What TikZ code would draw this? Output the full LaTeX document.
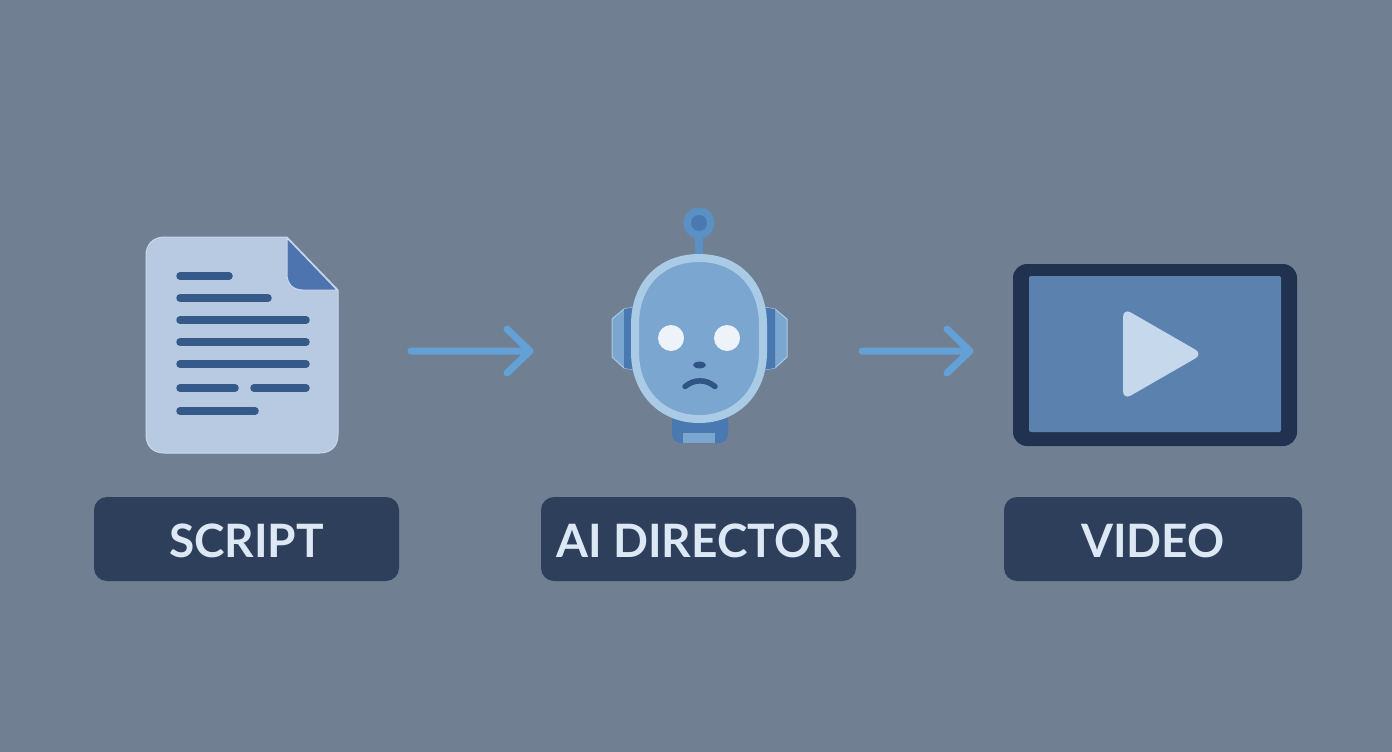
\documentclass[tikz,border=0pt]{standalone}
\usepackage{fontspec}
\setmainfont{Lato}
\definecolor{bg}{HTML}{717F92}
\definecolor{lab}{HTML}{2E3F5C}
\definecolor{labtxt}{HTML}{DCE8F4}
\definecolor{paper}{HTML}{B8C9E2}
\definecolor{paperrim}{HTML}{C9D8EC}
\definecolor{fold}{HTML}{4E74B0}
\definecolor{ink}{HTML}{355A8A}
\definecolor{flowc}{HTML}{62A0D6}
\definecolor{face}{HTML}{7BA6CF}
\definecolor{rim}{HTML}{A9CBE6}
\definecolor{deep}{HTML}{4A78B0}
\definecolor{mouthc}{HTML}{2F5587}
\definecolor{frame}{HTML}{20324F}
\definecolor{scr}{HTML}{5B82AE}
\definecolor{playc}{HTML}{C6D8EC}
\definecolor{eye}{HTML}{EEF3F9}
\definecolor{ant}{HTML}{5B90C4}
\tikzset{
  x=1pt,y=-1pt,
  labelbox/.style={fill=lab,draw=none,rounded corners=13pt,minimum height=84pt,inner sep=0pt,
    text=labtxt,font=\fontsize{46}{46}\selectfont\bfseries,anchor=center,text height=36pt,text depth=0pt},
  flow/.style={draw=flowc,line width=7pt,line cap=round,line join=round},
  textline/.style={draw=ink,line width=7.5pt,line cap=round},
}
\begin{document}
\begin{tikzpicture}
\useasboundingbox (0,0) rectangle (1392,752);
\fill[bg] (0,0) rectangle (1392,752);

% document icon
\path[fill=paper,draw=paperrim,line width=1pt,line join=round]
  (164,237) -- (287,237) -- (338,290) -- (338,435)
  .. controls (338,447) and (330,453) .. (320,453) -- (164,453)
  .. controls (153,453) and (146,446) .. (146,435) -- (146,255)
  .. controls (146,245) and (153,237) .. (164,237) -- cycle;
\path[fill=fold,draw=paperrim,line width=1pt,line join=round]
  (287,238) -- (337,290) -- (303,290) .. controls (293,290) and (287,284) .. (287,274) -- cycle;
\draw[textline] (180,276) -- (229,276);
\draw[textline] (180,298) -- (268,298);
\draw[textline] (180,320) -- (306,320);
\draw[textline] (180,342) -- (306,342);
\draw[textline] (180,364) -- (306,364);
\draw[textline] (180,388) -- (235,388);
\draw[textline] (254,388) -- (306,388);
\draw[textline] (180,411) -- (255,411);

% robot: neck
\path[fill=deep] (672,412) -- (728,412) -- (728,434)
  .. controls (728,440) and (724,443) .. (719,443) -- (681,443)
  .. controls (676,443) and (672,440) .. (672,434) -- cycle;
\fill[face] (683,433) rectangle (715,443);
% antenna
\fill[ant] (695,236) rectangle (703,256);
\fill[ant] (699,223) circle (15.5);
\fill[deep] (699,223) circle (8);
% ears
\path[fill=face,draw=rim,line width=1pt,line join=round]
  (636,307) -- (624,309) -- (612,319) -- (612,357) -- (624,368) -- (636,370) -- cycle;
\fill[deep] (624,309) -- (636,307) -- (636,370) -- (624,368) -- cycle;
\path[fill=face,draw=rim,line width=1pt,line join=round]
  (763,307) -- (775,309) -- (787,319) -- (787,357) -- (775,368) -- (763,370) -- cycle;
\fill[deep] (775,309) -- (763,307) -- (763,370) -- (775,368) -- cycle;
% head
\path[fill=face,draw=rim,line width=8pt]
  (635,325) .. controls (635,283) and (662,258) .. (699,258)
  .. controls (736,258) and (763,283) .. (763,325)
  -- (763,352) .. controls (763,392) and (736,419) .. (699,419)
  .. controls (662,419) and (635,392) .. (635,352) -- cycle;
\fill[eye] (671,338) circle (13);
\fill[eye] (727,338) circle (13);
\fill[mouthc] (699.5,365) ellipse (6.5 and 3.4);
\draw[mouthc,line width=5.5pt,line cap=round] (685,386.5) .. controls (694,379) and (706,379) .. (715,386.5);

% screen
\path[fill=frame,rounded corners=14pt] (1013,264) rectangle (1297,446);
\path[fill=scr,rounded corners=2pt] (1029,276) rectangle (1281,432);
\path[fill=playc,rounded corners=9pt] (1123,308) -- (1203,354) -- (1123,400) -- cycle;

% labels
\node[labelbox,minimum width=305pt] (script) at (246.5,539) {SCRIPT};
\node[labelbox,minimum width=315pt] (director) at (698.5,539) {AI DIRECTOR};
\node[labelbox,minimum width=298pt] (video) at (1153,539) {VIDEO};

% connectors
\coordinate (a1) at (411,351);
\coordinate (a2) at (530,351);
\coordinate (b1) at (862,351);
\coordinate (b2) at (970,351);
\draw[flow] (a1) -- (a2) (507,329) -- (a2) -- (507,373);
\draw[flow] (b1) -- (b2) (947,329) -- (b2) -- (947,373);
\end{tikzpicture}
\end{document}
